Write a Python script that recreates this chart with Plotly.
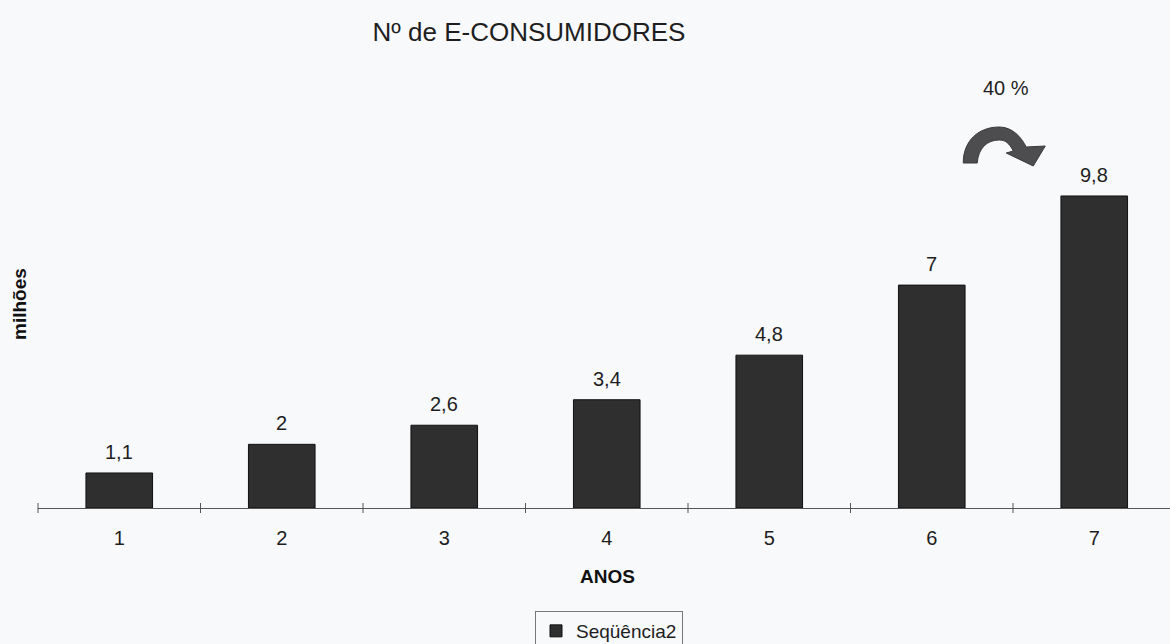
import plotly.graph_objects as go

# Data
anos = ["1", "2", "3", "4", "5", "6", "7"]
consumidores = [1.1, 2, 2.6, 3.4, 4.8, 7, 9.8]
serie_nome = "Seqüência2"
crescimento = "40 %"

FONT = "Liberation Sans, Arial, sans-serif"
BG = "#f8f9fb"
BAR = "#2f2f30"
TXT = "#1e1e1e"

W, H = 1170, 644
L, R, T, B = 38, 0, 60, 136
plot_w = W - L - R
plot_h = H - T - B
cat_px = 162.5                     # pixels per category
x_range = [-0.5, -0.5 + plot_w / cat_px]
y_unit_px = 31.84                  # pixels per million
y_range = [0, plot_h / y_unit_px]

fig = go.Figure()
fig.add_trace(go.Bar(
    x=list(range(len(anos))),
    y=consumidores,
    name=serie_nome,
    width=0.41,
    marker=dict(color=BAR, line=dict(color="#111111", width=1)),
    showlegend=True,
))

# value labels above the bars
for i, v in enumerate(consumidores):
    fig.add_annotation(
        x=i, y=v, xref="x", yref="y",
        text=f"{v:g}".replace(".", ","),
        showarrow=False, yanchor="middle", yshift=21,
        font=dict(family=FONT, size=20, color=TXT),
    )

# tick marks crossing the category axis at the category boundaries
span = x_range[1] - x_range[0]
tick_half = 5 / plot_h
for i in range(len(anos) + 1):
    xp = (i - 0.5 - x_range[0]) / span
    fig.add_shape(
        type="line", xref="paper", yref="paper",
        x0=xp, x1=xp, y0=-tick_half, y1=tick_half,
        line=dict(color="#555555", width=1),
    )

# curved growth arrow between the last two bars
def px(xp, yp):
    return (xp - 120) / cat_px, (508 - yp) / y_unit_px

def fmt(p):
    x, y = px(*p)
    return f"{x:.4f},{y:.4f}"

path = (
    "M " + fmt((964, 163))
    + " C " + fmt((964, 140)) + " " + fmt((980, 127)) + " " + fmt((1000, 127))
    + " C " + fmt((1013, 127)) + " " + fmt((1022, 137)) + " " + fmt((1027, 147))
    + " L " + fmt((1046, 146))
    + " L " + fmt((1034, 166))
    + " L " + fmt((1007, 153))
    + " L " + fmt((1014, 151))
    + " C " + fmt((1010, 143)) + " " + fmt((1006, 140)) + " " + fmt((1000, 140))
    + " C " + fmt((988, 140)) + " " + fmt((979, 148)) + " " + fmt((978, 163))
    + " Z"
)
fig.add_shape(type="path", xref="x", yref="y", path=path,
              fillcolor="#4d4d4f", line=dict(color="#3a3a3a", width=1))

gx, gy = px(1007, 88)
fig.add_annotation(x=gx, y=gy, xref="x", yref="y", text=crescimento,
                   showarrow=False, yanchor="middle",
                   font=dict(family=FONT, size=20, color=TXT))

# axis titles
fig.add_annotation(x=(607 - L) / plot_w, y=(508 - 576) / plot_h,
                   xref="paper", yref="paper", text="<b>ANOS</b>",
                   showarrow=False, xanchor="center", yanchor="middle",
                   font=dict(family=FONT, size=19, color="#111111"))
fig.add_annotation(x=(19 - L) / plot_w, y=(508 - 304) / plot_h,
                   xref="paper", yref="paper", text="<b>milhões</b>",
                   textangle=-90, showarrow=False,
                   xanchor="center", yanchor="middle",
                   font=dict(family=FONT, size=19, color="#111111"))

fig.update_layout(
    width=W, height=H,
    margin=dict(l=L, r=R, t=T, b=B, pad=0, autoexpand=False),
    paper_bgcolor=BG, plot_bgcolor=BG,
    font=dict(family=FONT, size=20, color=TXT),
    title=dict(text="Nº de E-CONSUMIDORES", x=529 / W, xanchor="center",
               y=1 - 32 / H, yanchor="middle", xref="container", yref="container",
               font=dict(family=FONT, size=26, color=TXT)),
    xaxis=dict(
        range=x_range, tickmode="array",
        tickvals=list(range(len(anos))), ticktext=anos,
        showgrid=False, zeroline=False,
        showline=True, linecolor="#555555", linewidth=1,
        ticks="", ticklabelstandoff=12,
        tickfont=dict(family=FONT, size=20, color=TXT),
    ),
    yaxis=dict(range=y_range, visible=False, showgrid=False, zeroline=False),
    legend=dict(
        orientation="h", x=(609 - L) / plot_w, xanchor="center",
        y=(508 - 611) / plot_h, yanchor="top",
        bordercolor="#777777", borderwidth=1, bgcolor=BG,
        font=dict(family=FONT, size=19, color=TXT),
        itemwidth=30,
    ),
)

fig.write_html("out.html")
